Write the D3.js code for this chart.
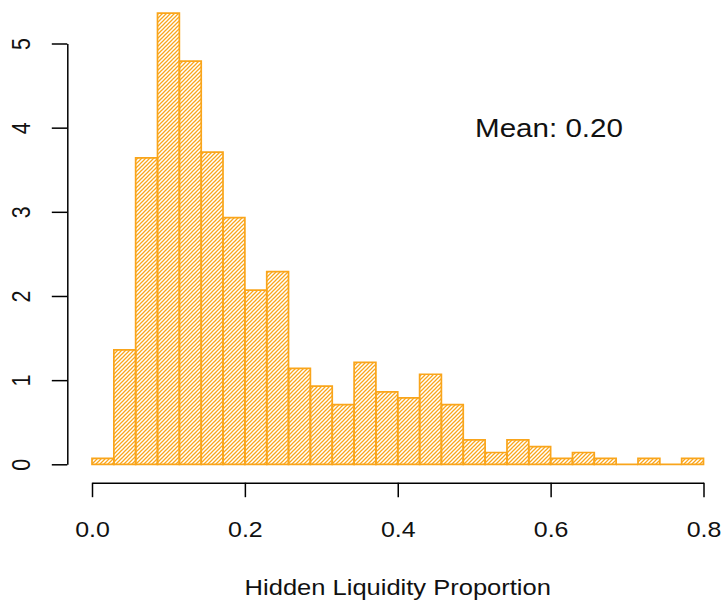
<!DOCTYPE html>
<html>
<head>
<meta charset="utf-8">
<script src="https://cdn.jsdelivr.net/npm/d3@7"></script>
<style>
  body { margin: 0; background: #fff; }
  svg { display: block; }
</style>
</head>
<body>
<div id="chart"></div>
<script>
// histogram of hidden liquidity proportion (density scale, 28 bins of 0.8/28)

const binEdges = [0, 0.0286, 0.0571, 0.0857, 0.1143, 0.1429, 0.1714, 0.2, 0.2286,
  0.2571, 0.2857, 0.3143, 0.3429, 0.3714, 0.4, 0.4286, 0.4571, 0.4857, 0.5143,
  0.5429, 0.5714, 0.6, 0.6286, 0.6571, 0.6857, 0.7143, 0.7429, 0.7714, 0.8];
const densities = [0.07, 1.36, 3.64, 5.36, 4.79, 3.71, 2.93, 2.07, 2.29, 1.14,
  0.93, 0.71, 1.21, 0.86, 0.79, 1.07, 0.71, 0.29, 0.14, 0.29, 0.21, 0.07, 0.14,
  0.07, 0, 0.07, 0, 0.07];
const xTicks = [0, 0.2, 0.4, 0.6, 0.8];
const yTicks = [0, 1, 2, 3, 4, 5];
const xLabel = "Hidden Liquidity Proportion";
const meanText = "Mean: 0.20";

const width = 723;
const height = 605;
const barColour = "#F9A51B";
const font = "'Liberation Sans', Arial, sans-serif";
const stretch = 1.16; // the picture is a bit wider than tall

const svg = d3
  .select("#chart")
  .append("svg")
  .attr("width", width)
  .attr("height", height);

// hatch pattern for the bars
const defs = svg.append("defs");
const hatch = defs
  .append("pattern")
  .attr("id", "hatch")
  .attr("patternUnits", "userSpaceOnUse")
  .attr("width", 4)
  .attr("height", 4);
hatch
  .append("path")
  .attr("d", "M-1,5 L5,-1 M-1,1 L1,-1 M3,5 L5,3")
  .attr("stroke", barColour)
  .attr("stroke-width", 1.25);

const x = d3.scaleLinear().domain([0, 0.8]).range([92, 703.5]);
const y = d3.scaleLinear().domain([0, 5]).range([464.3, 43.5]);

// bars (drawn as paths so empty bins still leave a line at the base)
const bins = densities.map((d, i) => ({ x0: binEdges[i], x1: binEdges[i + 1], d: d }));

svg
  .append("g")
  .selectAll("path")
  .data(bins)
  .enter()
  .append("path")
  .attr("d", (b) => {
    const p = d3.path();
    p.moveTo(x(b.x0), y(0));
    p.lineTo(x(b.x0), y(b.d));
    p.lineTo(x(b.x1), y(b.d));
    p.lineTo(x(b.x1), y(0));
    p.closePath();
    return p.toString();
  })
  .attr("fill", "url(#hatch)")
  .attr("stroke", barColour)
  .attr("stroke-width", 1.7);

// x axis
const xAxis = svg
  .append("g")
  .attr("transform", "translate(0,482.7)")
  .call(d3.axisBottom(x).tickValues(xTicks).tickSize(14.5).tickSizeOuter(0).tickFormat(d3.format(".1f")));

// y axis
const yAxis = svg
  .append("g")
  .attr("transform", "translate(67.3,0)")
  .call(d3.axisLeft(y).tickValues(yTicks).tickSize(15.5).tickSizeOuter(0).tickFormat(d3.format("d")));

[xAxis, yAxis].forEach((ax) => {
  ax.select(".domain").attr("stroke", "#000").attr("stroke-width", 1.5);
  ax.selectAll(".tick line").attr("stroke", "#000").attr("stroke-width", 1.5);
});

xAxis
  .selectAll(".tick text")
  .attr("y", null)
  .attr("dy", null)
  .attr("transform", `translate(0,54.5) scale(${stretch},1)`)
  .attr("text-anchor", "middle")
  .style("font-family", font)
  .style("font-size", "21.5px")
  .attr("fill", "#111");

yAxis
  .selectAll(".tick text")
  .attr("x", null)
  .attr("dy", null)
  .attr("transform", `translate(-37.3,0) scale(${stretch},1) rotate(-90)`)
  .attr("text-anchor", "middle")
  .style("font-family", font)
  .style("font-size", "21.5px")
  .attr("fill", "#111");

// x label
svg
  .append("text")
  .attr("transform", `translate(${(x(0) + x(0.8)) / 2},595) scale(${stretch},1)`)
  .attr("text-anchor", "middle")
  .style("font-family", font)
  .style("font-size", "22px")
  .attr("fill", "#111")
  .text(xLabel);

// mean annotation
svg
  .append("text")
  .attr("transform", `translate(475,137) scale(${stretch},1)`)
  .attr("text-anchor", "start")
  .style("font-family", font)
  .style("font-size", "25.5px")
  .attr("fill", "#111")
  .text(meanText);
</script>
</body>
</html>
